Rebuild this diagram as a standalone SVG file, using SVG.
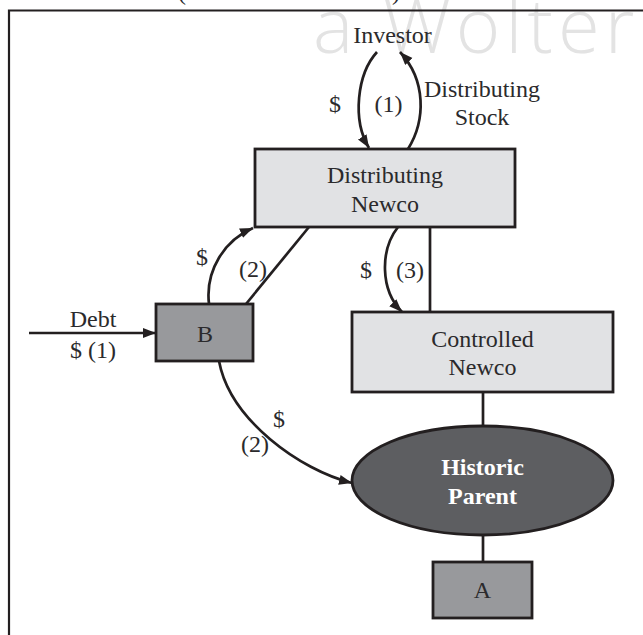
<svg xmlns="http://www.w3.org/2000/svg" width="643" height="635" viewBox="0 0 643 635">
  <defs>
    <style>
      .lbl { font-family: "Liberation Serif", "Times New Roman", serif; font-size: 24px; fill: #2b2a2c; text-anchor: middle; }
      .bold { font-weight: bold; fill: #ffffff; }
      .box { stroke: #231f20; stroke-width: 2.8; }
      .light { fill: #e1e2e4; }
      .mid { fill: #98999c; }
      .dark { fill: #5d5e61; }
      .conn { fill: none; stroke: #231f20; stroke-width: 2.7; }
      .wm { font-family: "Open Sans", "Liberation Sans", sans-serif; font-weight: 300; font-size: 76px; letter-spacing: 5px; fill: #e3e3e3; }
    </style>
    <marker id="arr" markerUnits="userSpaceOnUse" markerWidth="14" markerHeight="11" refX="13" refY="5" orient="auto">
      <path d="M0,0 L13,5 L0,10 z" fill="#231f20"/>
    </marker>
  </defs>
  <rect width="643" height="635" fill="#ffffff"/>
  <text class="wm" x="313" y="53">a Wolter</text>
  <text class="lbl" x="182" y="0">(</text>
  <text class="lbl" x="396" y="0">)</text>
  <path d="M9,635 L9,10.5 L643,10.5" fill="none" stroke="#231f20" stroke-width="2.2"/>

  <g id="investor">
    <text class="lbl" x="392.5" y="43">Investor</text>
  </g>
  <g id="distributing-newco">
    <rect class="box light" x="255" y="149" width="260" height="78"/>
    <text class="lbl" x="385" y="183">Distributing</text>
    <text class="lbl" x="385" y="212">Newco</text>
  </g>
  <g id="controlled-newco">
    <rect class="box light" x="352" y="312" width="261" height="80"/>
    <text class="lbl" x="482.5" y="347">Controlled</text>
    <text class="lbl" x="482.5" y="375">Newco</text>
  </g>
  <g id="b">
    <rect class="box mid" x="156" y="304" width="97" height="57"/>
    <text class="lbl" x="205" y="342">B</text>
  </g>
  <g id="historic-parent">
    <ellipse class="box dark" cx="482.5" cy="480.5" rx="130.5" ry="54.5"/>
    <text class="lbl bold" x="482.5" y="475">Historic</text>
    <text class="lbl bold" x="482.5" y="504">Parent</text>
  </g>
  <g id="a">
    <rect class="box mid" x="433" y="562" width="99" height="56"/>
    <text class="lbl" x="482.5" y="598">A</text>
  </g>

  <g id="connectors">
    <path class="conn" d="M377,52 C357,74 352,120 369,148" marker-end="url(#arr)"/>
    <path class="conn" d="M408,149 C426,120 426,80 400,52" marker-end="url(#arr)"/>
    <path class="conn" d="M209,304 C205,270 225,240 253,228" marker-end="url(#arr)"/>
    <path class="conn" d="M246,304 L309,227"/>
    <path class="conn" d="M29,333 L156,333" marker-end="url(#arr)"/>
    <path class="conn" d="M398,227 C380,250 380,290 402,312" marker-end="url(#arr)"/>
    <path class="conn" d="M430,227 L430,312"/>
    <path class="conn" d="M483,392 L483,426"/>
    <path class="conn" d="M219,361 C230,420 300,470 352,483" marker-end="url(#arr)"/>
    <path class="conn" d="M483,535 L483,562"/>
  </g>

  <g id="labels">
    <text class="lbl" x="335" y="112">$</text>
    <text class="lbl" x="388.5" y="112">(1)</text>
    <text class="lbl" x="482" y="97">Distributing</text>
    <text class="lbl" x="482" y="125">Stock</text>
    <text class="lbl" x="202" y="265">$</text>
    <text class="lbl" x="253" y="277">(2)</text>
    <text class="lbl" x="366" y="278">$</text>
    <text class="lbl" x="410" y="278">(3)</text>
    <text class="lbl" x="93" y="327">Debt</text>
    <text class="lbl" x="93" y="358">$ (1)</text>
    <text class="lbl" x="279" y="427">$</text>
    <text class="lbl" x="255" y="452">(2)</text>
  </g>
</svg>
